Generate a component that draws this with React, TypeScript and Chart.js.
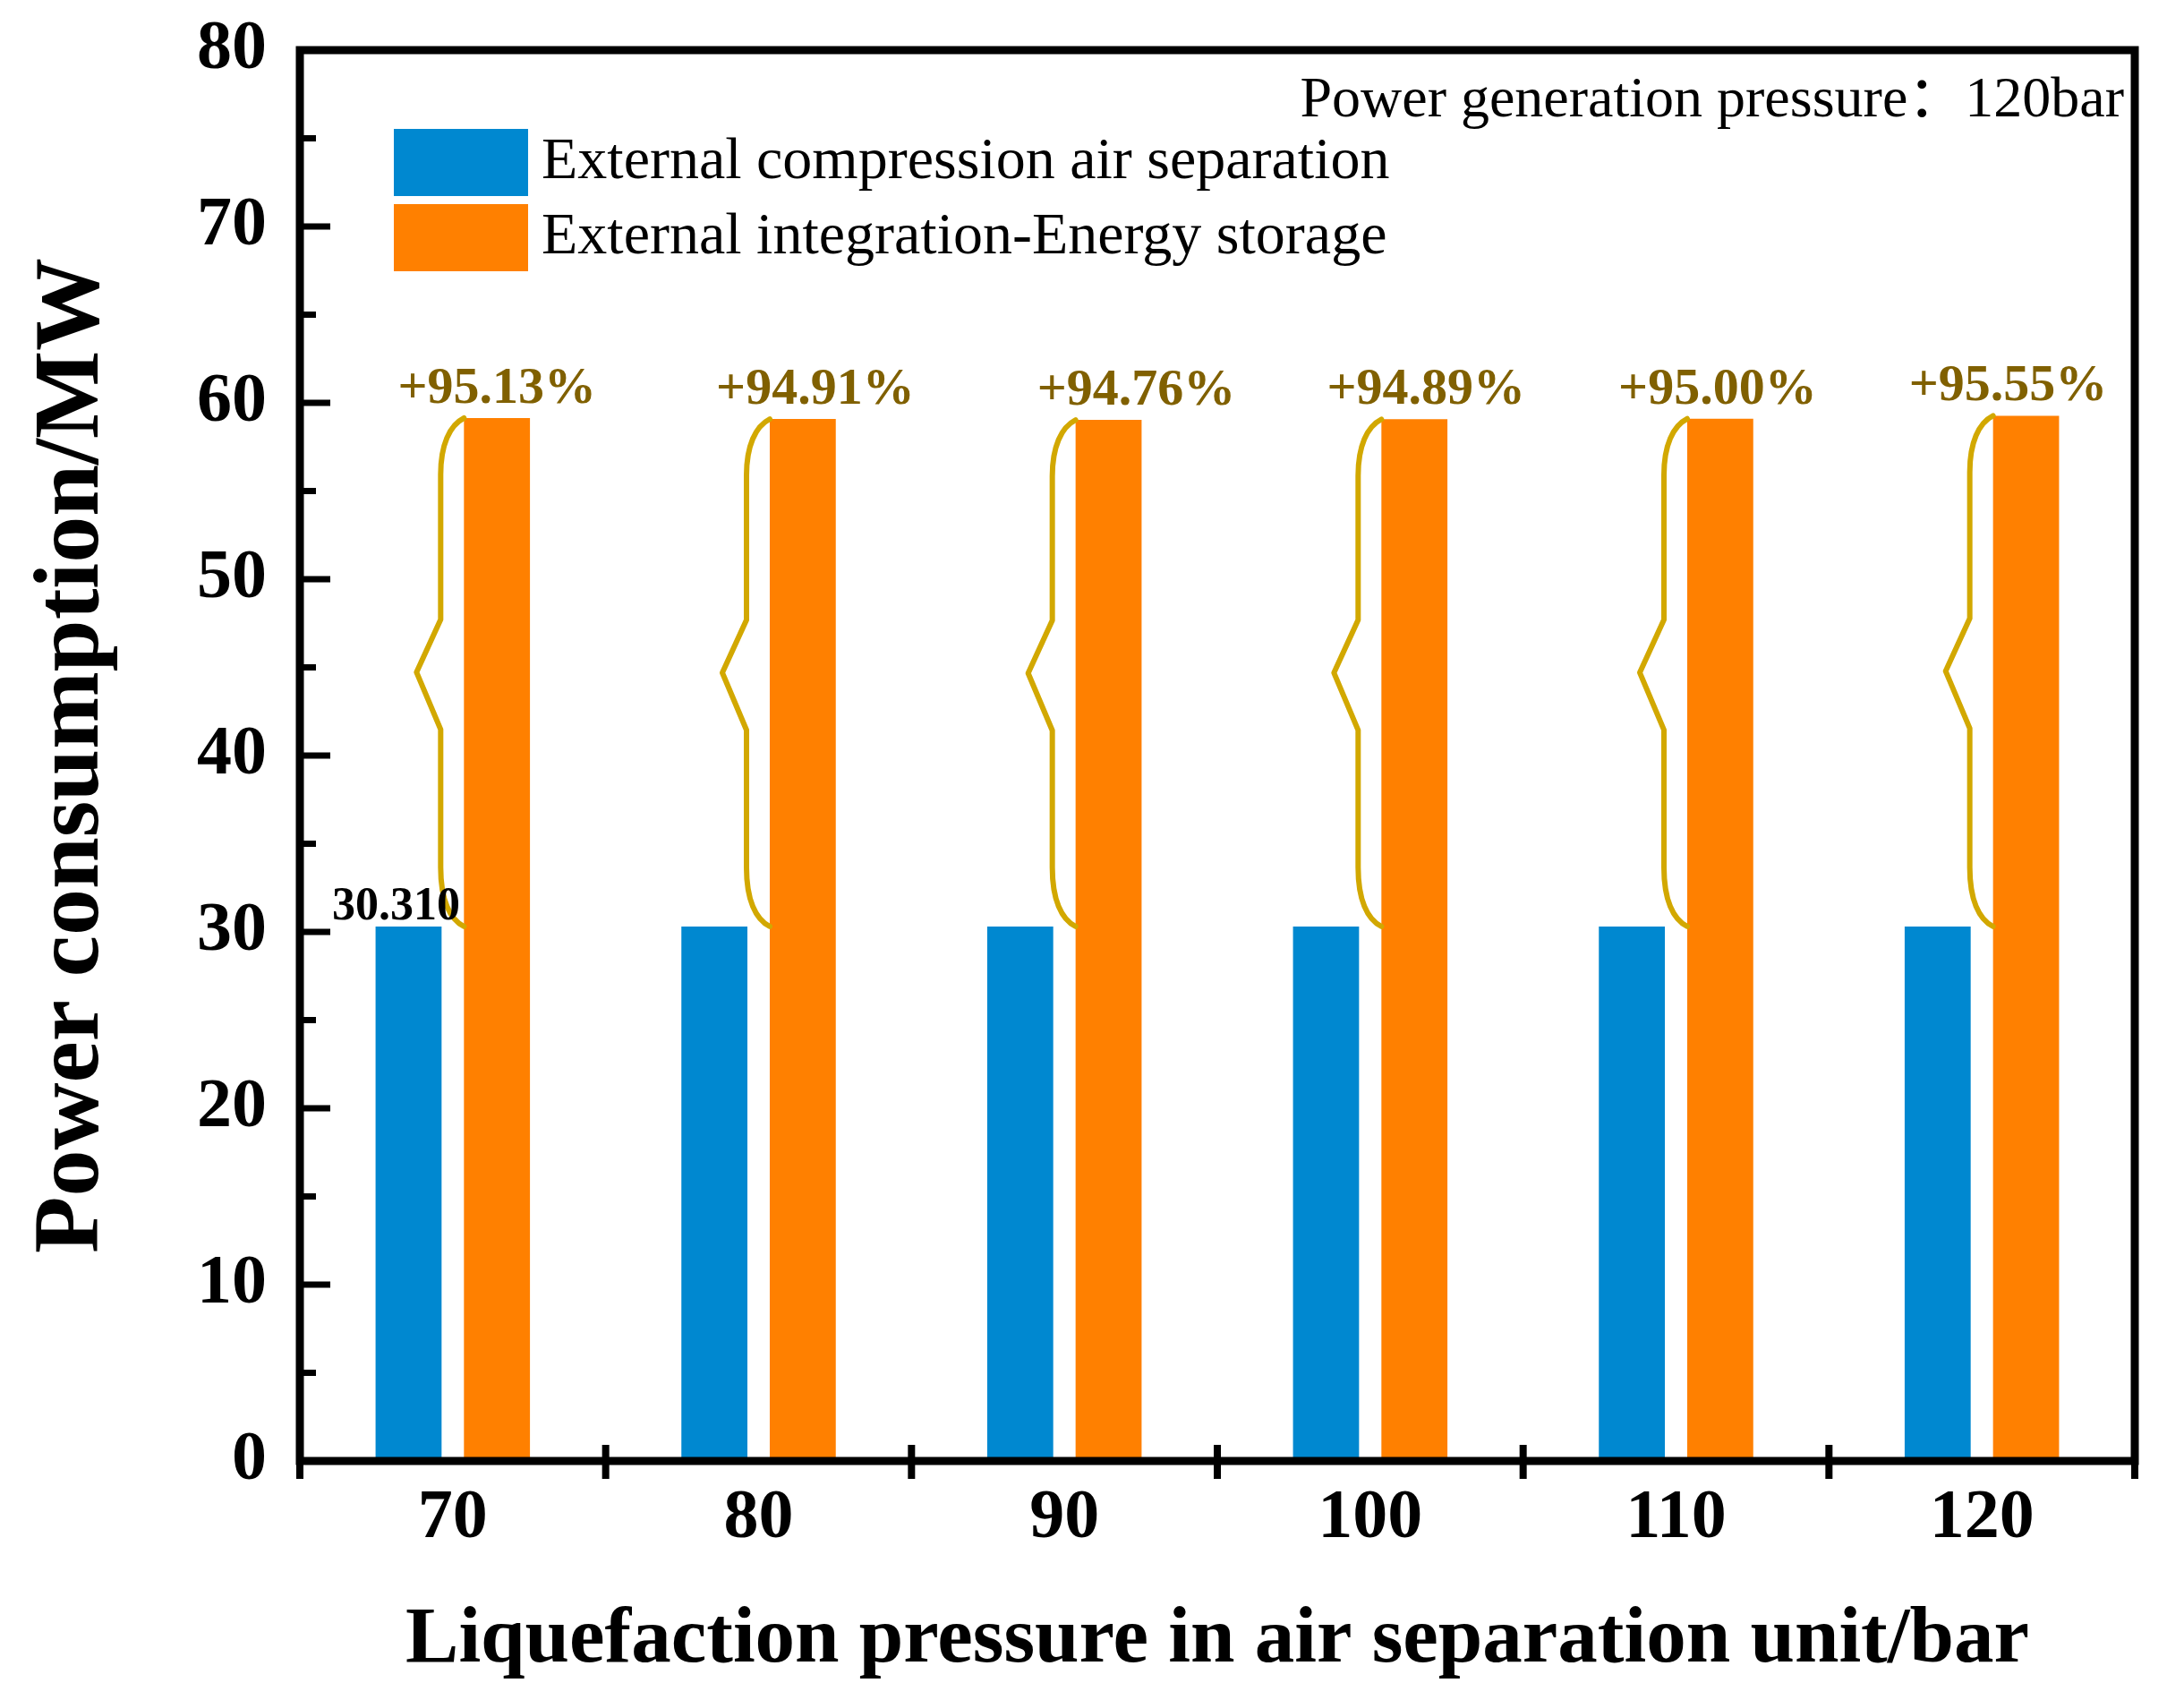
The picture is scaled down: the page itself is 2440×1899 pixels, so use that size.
import { useEffect, useRef } from "react";
import { Chart, registerables } from "chart.js";

Chart.register(...registerables);

// ---------- data ----------
const categories = ["70", "80", "90", "100", "110", "120"];
const externalCompression = [30.31, 30.31, 30.31, 30.31, 30.31, 30.31];
const integratedStorage = [59.14, 59.08, 59.03, 59.07, 59.1, 59.27];
const increaseLabels = ["+95.13%", "+94.91%", "+94.76%", "+94.89%", "+95.00%", "+95.55%"];
const firstValueLabel = "30.310";
const seriesNames = ["External compression air separation", "External integration-Energy storage"];
const noteText = "Power generation pressure\uFF1A120bar";
const yTitle = "Power consumption/MW";
const xTitle = "Liquefaction pressure in air separation unit/bar";
const yMin = 0;
const yMax = 80;
const yStep = 10;

// ---------- styles ----------
const W = 2440;
const H = 1899;
const SERIF = "'Liberation Serif', 'Times New Roman', 'Noto Sans CJK SC', serif";
const BLUE = "#0088D0";
const ORANGE = "#FF8000";
const BRACE = "#D2A800";
const PCT = "#806000";
const labelNudge = [0, 14, 31, 13, -3, -20];

const decorPlugin = {
  id: "decor",
  afterDatasetsDraw(chart: any) {
    const { ctx } = chart;
    const m0 = chart.getDatasetMeta(0);
    const m1 = chart.getDatasetMeta(1);
    ctx.save();
    // braces
    ctx.strokeStyle = BRACE;
    ctx.lineWidth = 6;
    ctx.lineJoin = "round";
    ctx.lineCap = "round";
    m1.data.forEach((bar: any, i: number) => {
      const xL = bar.x - bar.width / 2;
      const yT = bar.y;
      const yB = m0.data[i].y;
      const yM = (yT + yB) / 2;
      const xv = xL - 26;
      const xt = xL - 53;
      ctx.beginPath();
      ctx.moveTo(xL, yT);
      ctx.bezierCurveTo(xL - 16, yT + 8, xv, yT + 30, xv, yT + 63);
      ctx.lineTo(xv, yM - 59);
      ctx.lineTo(xt, yM);
      ctx.lineTo(xv, yM + 64);
      ctx.lineTo(xv, yB - 66);
      ctx.bezierCurveTo(xv, yB - 30, xL - 16, yB - 8, xL, yB);
      ctx.stroke();
    });
    // percentage labels
    ctx.fillStyle = PCT;
    ctx.font = `bold 58px ${SERIF}`;
    ctx.textAlign = "center";
    ctx.textBaseline = "alphabetic";
    m1.data.forEach((bar: any, i: number) => {
      ctx.fillText(increaseLabels[i], bar.x + labelNudge[i], bar.y - 17);
    });
    // first value label
    const b0 = m0.data[0];
    ctx.fillStyle = "#000";
    ctx.font = `bold 52px ${SERIF}`;
    ctx.fillText(firstValueLabel, b0.x - 14, b0.y - 8);
    ctx.restore();
  },
  afterDraw(chart: any) {
    const { ctx, chartArea: a, scales } = chart;
    const xs = scales.x;
    const ys = scales.y;
    ctx.save();
    ctx.strokeStyle = "#000";
    ctx.lineCap = "butt";
    // y ticks (inward)
    ctx.lineWidth = 7;
    for (let v = yMin; v <= yMax; v += yStep / 2) {
      const y = ys.getPixelForValue(v);
      const major = (v - yMin) % yStep === 0;
      if (v === yMin || v === yMax) continue;
      ctx.beginPath();
      ctx.moveTo(a.left, y);
      ctx.lineTo(a.left + (major ? 34 : 18), y);
      ctx.stroke();
    }
    // x ticks at category boundaries
    const step = xs.getPixelForValue(1) - xs.getPixelForValue(0);
    ctx.lineWidth = 8;
    for (let i = 0; i <= categories.length; i++) {
      const x = xs.getPixelForValue(i) - step / 2;
      const edge = i === 0 || i === categories.length;
      ctx.beginPath();
      ctx.moveTo(x, a.bottom - (edge ? 0 : 18));
      ctx.lineTo(x, a.bottom + 20);
      ctx.stroke();
    }
    // frame
    ctx.lineWidth = 9;
    ctx.strokeRect(a.left, a.top, a.right - a.left, a.bottom - a.top);
    // legend
    const colors = [BLUE, ORANGE];
    ctx.font = `66px ${SERIF}`;
    ctx.textAlign = "left";
    ctx.textBaseline = "middle";
    seriesNames.forEach((name, i) => {
      const by = a.top + 88 + i * 84;
      ctx.fillStyle = colors[i];
      ctx.fillRect(a.left + 105, by, 150, 75);
      ctx.fillStyle = "#000";
      ctx.fillText(name, a.left + 270, by + 38);
    });
    // note
    ctx.font = `64px ${SERIF}`;
    ctx.textAlign = "right";
    ctx.fillText(noteText, a.right - 12, a.top + 57);
    ctx.restore();
  },
};

export default function App() {
  const ref = useRef<HTMLCanvasElement | null>(null);
  useEffect(() => {
    document.body.style.margin = "0";
    const canvas = ref.current;
    if (!canvas) return;
    const chart = new Chart(canvas, {
      type: "bar",
      data: {
        labels: categories,
        datasets: [
          {
            label: seriesNames[0],
            data: externalCompression,
            backgroundColor: BLUE,
            borderWidth: 0,
            categoryPercentage: 0.578,
            barPercentage: 0.747,
          },
          {
            label: seriesNames[1],
            data: integratedStorage,
            backgroundColor: ORANGE,
            borderWidth: 0,
            categoryPercentage: 0.578,
            barPercentage: 0.747,
          },
        ],
      },
      options: {
        responsive: false,
        devicePixelRatio: 1,
        animation: false,
        layout: { padding: { top: 56, right: 55, left: 0, bottom: 0 } },
        plugins: {
          legend: { display: false },
          tooltip: { enabled: false },
        },
        scales: {
          x: {
            type: "category",
            offset: true,
            grid: { display: false, drawTicks: false },
            border: { display: false },
            ticks: {
              color: "#000",
              font: { family: SERIF, size: 78, weight: "bold" },
              padding: 18,
              maxRotation: 0,
            },
            title: {
              display: true,
              text: xTitle,
              color: "#000",
              font: { family: SERIF, size: 89, weight: "bold" },
              padding: { top: 0, bottom: 13 },
            },
            afterFit(scale: any) {
              scale.height = H - 1632;
              scale.paddingLeft = 0;
              scale.paddingRight = 0;
              scale.paddingTop = 0;
              scale.paddingBottom = 0;
            },
          },
          y: {
            min: yMin,
            max: yMax,
            grid: { display: false, drawTicks: false },
            border: { display: false },
            ticks: {
              stepSize: yStep,
              color: "#000",
              font: { family: SERIF, size: 78, weight: "bold" },
              padding: 37,
            },
            title: {
              display: true,
              text: yTitle,
              color: "#000",
              font: { family: SERIF, size: 104, weight: "bold" },
              padding: { top: 20, bottom: 0 },
            },
            afterFit(scale: any) {
              scale.width = 335;
              scale.paddingLeft = 0;
              scale.paddingRight = 0;
              scale.paddingTop = 0;
              scale.paddingBottom = 0;
            },
          },
        },
      },
      plugins: [decorPlugin],
    });
    return () => chart.destroy();
  }, []);
  return <canvas ref={ref} width={W} height={H} style={{ display: "block", width: W, height: H }} />;
}
